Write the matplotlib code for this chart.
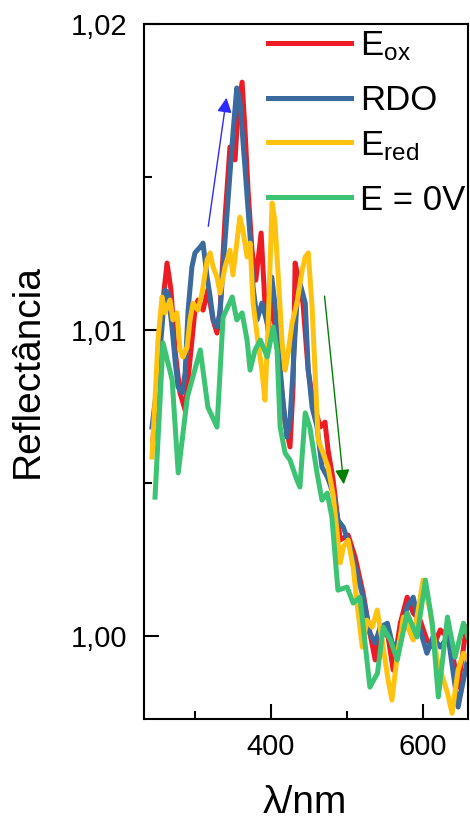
import matplotlib
matplotlib.use("Agg")
import matplotlib.pyplot as plt
from matplotlib.ticker import MultipleLocator, FuncFormatter

plt.rcParams['font.family'] = ['Liberation Sans', 'DejaVu Sans']
plt.rcParams['mathtext.fontset'] = 'custom'
plt.rcParams['mathtext.rm'] = 'Liberation Sans'
plt.rcParams['mathtext.it'] = 'Liberation Sans:italic'

# ---- data ----
ox_nm = [244.8, 251.4, 258.0, 263.3, 268.5, 273.8, 280.4, 287.0, 293.5, 300.0, 304.0, 310.6, 317.0,
         323.8, 329.0, 333.0, 339.6, 346.0, 352.7, 356.7, 362.0, 366.0, 369.8, 375.0, 380.0, 387.0,
         392.0, 396.0, 401.4, 409.0, 418.5, 425.0, 429.0, 431.7, 435.6, 442.0, 448.8, 455.0, 464.6,
         471.0, 475.0, 481.7, 491.0, 501.4, 510.6, 521.0, 530.0, 537.0, 543.5, 554.0, 560.6, 570.0,
         579.0, 587.0, 596.0, 605.0, 613.0, 622.5, 632.0, 639.6, 646.0, 655.0, 659.0]
ox_R = [1.00641, 1.00869, 1.01098, 1.01219, 1.01131, 1.00935, 1.00794, 1.00739, 1.00902, 1.01065,
        1.01098, 1.01065, 1.01131, 1.01033, 1.00990, 1.01065, 1.01369, 1.01598, 1.01556, 1.01719,
        1.01810, 1.01644, 1.01458, 1.01261, 1.01163, 1.01317, 1.01088, 1.01000, 1.01098, 1.00925,
        1.00696, 1.00618, 1.00814, 1.01219, 1.01173, 1.01088, 1.00869, 1.00771, 1.00683, 1.00699,
        1.00608, 1.00510, 1.00314, 1.00330, 1.00258, 1.00141, 1.00010, 0.99922, 1.00029, 0.99997,
        0.99889, 1.00042, 1.00127, 1.00075, 1.00052, 0.99987, 0.99964, 1.00020, 0.99997, 0.99931,
        0.99833, 0.99997, 1.00029]

rdo_nm = [243.5, 250.0, 256.7, 260.6, 264.6, 269.8, 273.8, 277.7, 283.0, 287.0, 291.0, 296.0, 300.0,
          306.7, 310.6, 316.0, 320.0, 324.0, 329.0, 333.0, 337.0, 343.5, 350.0, 355.0, 359.0, 363.0,
          366.0, 372.5, 376.4, 381.7, 388.0, 395.0, 401.0, 405.0, 409.0, 416.0, 421.0, 425.0, 429.0,
          434.0, 438.0, 445.0, 449.0, 454.0, 460.6, 467.0, 474.0, 481.7, 488.0, 495.0, 504.0, 513.0,
          521.0, 530.0, 537.0, 543.5, 553.0, 560.6, 569.8, 579.0, 587.0, 596.0, 605.0, 613.0, 622.5,
          633.0, 639.6, 646.0, 653.0, 659.0]
rdo_R = [1.00683, 1.00814, 1.01010, 1.01131, 1.01121, 1.01010, 1.00902, 1.00814, 1.00794, 1.00859,
         1.01065, 1.01206, 1.01252, 1.01271, 1.01284, 1.01173, 1.01108, 1.01033, 1.01010, 1.01056,
         1.01206, 1.01425, 1.01644, 1.01791, 1.01752, 1.01621, 1.01523, 1.01304, 1.01141, 1.01033,
         1.01088, 1.01023, 1.01173, 1.01088, 1.00958, 1.00761, 1.00650, 1.00706, 1.00869, 1.01088,
         1.01154, 1.01088, 1.00869, 1.00748, 1.00683, 1.00552, 1.00520, 1.00467, 1.00379, 1.00356,
         1.00291, 1.00206, 1.00127, 1.00010, 0.99977, 1.00029, 1.00042, 0.99964, 0.99987, 1.00095,
         1.00127, 1.00020, 0.99944, 0.99997, 0.99964, 0.99997, 0.99879, 0.99768, 0.99856, 0.99931]

red_nm = [243.5, 247.5, 251.4, 256.7, 260.6, 267.2, 271.0, 276.4, 280.4, 284.3, 289.6, 293.5, 297.5,
          304.0, 309.3, 316.0, 320.0, 323.8, 329.0, 333.0, 339.6, 346.0, 350.0, 355.0, 359.0, 363.0,
          368.5, 372.5, 376.4, 383.0, 388.0, 392.0, 396.0, 401.4, 405.0, 409.0, 414.6, 418.5, 422.5,
          427.7, 434.0, 441.0, 445.0, 449.0, 454.0, 458.0, 462.0, 468.5, 475.0, 481.7, 491.0, 495.0,
          501.4, 508.0, 514.6, 520.0, 526.0, 533.0, 539.6, 546.0, 554.0, 559.0, 566.0, 574.0, 587.0,
          600.0, 609.0, 618.5, 632.0, 638.0, 646.0, 653.0, 659.0]
red_R = [1.00585, 1.00771, 1.00967, 1.01108, 1.01056, 1.01098, 1.01033, 1.01056, 1.00935, 1.00912,
         1.00944, 1.01033, 1.01088, 1.01065, 1.01121, 1.01229, 1.01252, 1.01206, 1.01173, 1.01121,
         1.01206, 1.01261, 1.01180, 1.01284, 1.01369, 1.01327, 1.01239, 1.01284, 1.01088, 1.00958,
         1.00869, 1.00771, 1.01000, 1.01415, 1.01359, 1.01196, 1.00958, 1.00869, 1.00925, 1.01023,
         1.01088, 1.01196, 1.01239, 1.01252, 1.01075, 1.00859, 1.00641, 1.00598, 1.00552, 1.00461,
         1.00239, 1.00291, 1.00314, 1.00225, 1.00075, 0.99964, 1.00052, 1.00029, 1.00085, 0.99987,
         0.99856, 0.99791, 0.99938, 1.00062, 0.99987, 1.00183, 1.00085, 0.99922, 0.99814, 0.99748,
         0.99889, 0.99944, 0.99922]

zero_nm = [247.5, 258.0, 270.0, 278.0, 290.0, 307.0, 317.0, 329.0, 337.0, 349.0, 355.0, 362.0, 368.5,
           372.5, 379.0, 386.0, 395.0, 403.0, 408.0, 412.0, 418.5, 425.0, 434.0, 438.0, 445.0, 451.0,
           460.5, 467.0, 474.0, 480.0, 488.0, 500.0, 508.0, 517.0, 530.0, 540.0, 547.5, 557.0, 566.0,
           579.0, 592.0, 603.0, 612.0, 620.0, 632.0, 642.0, 653.0, 659.0]
zero_R = [1.00454, 1.00958, 1.00837, 1.00533, 1.00781, 1.00935, 1.00748, 1.00683, 1.01042, 1.01108,
          1.01033, 1.01056, 1.00967, 1.00869, 1.00935, 1.00967, 1.00912, 1.01010, 1.00935, 1.00683,
          1.00598, 1.00575, 1.00510, 1.00487, 1.00729, 1.00683, 1.00533, 1.00444, 1.00467, 1.00389,
          1.00150, 1.00160, 1.00108, 1.00127, 0.99833, 0.99879, 1.00029, 0.99987, 0.99922, 1.00075,
          0.99997, 1.00183, 1.00042, 0.99801, 1.00062, 0.99931, 1.00042, 0.99997]

labels = ["E$_{\\mathrm{ox}}$", "RDO", "E$_{\\mathrm{red}}$", "E = 0V"]
colors = ["#ED1C24", "#3B6A9E", "#FFC20E", "#3CC374"]
series = [(ox_nm, ox_R), (rdo_nm, rdo_R), (red_nm, red_R), (zero_nm, zero_R)]

# ---- figure ----
W, H = 470, 825
fig = plt.figure(figsize=(W / 100, H / 100), dpi=100)
ax = fig.add_axes([144 / W, 1 - 719 / H, (468 - 144) / W, (719 - 24) / H])

for (x, y), c in zip(series, colors):
    ax.plot(x, y, color=c, lw=3.6, solid_joinstyle='round')

ax.set_xlim(233, 659)
ax.set_ylim(0.99729, 1.02)

ax.xaxis.set_major_locator(MultipleLocator(200))
ax.xaxis.set_minor_locator(MultipleLocator(100))
ax.yaxis.set_major_locator(MultipleLocator(0.01))
ax.yaxis.set_minor_locator(MultipleLocator(0.005))
ax.yaxis.set_major_formatter(FuncFormatter(lambda v, p: f"{v:.2f}".replace('.', ',')))
ax.xaxis.set_major_formatter(FuncFormatter(lambda v, p: f"{v:.0f}"))

ax.tick_params(which='both', direction='in', width=1.5, labelsize=21, top=False, right=False)
ax.tick_params(which='major', length=11)
ax.tick_params(which='minor', length=5.5)
ax.tick_params(axis='y', which='major', pad=12)
ax.tick_params(axis='x', which='major', pad=10)
for s in ax.spines.values():
    s.set_linewidth(1.5)

# arrows
ax.annotate('', xy=(342, 1.01768), xytext=(317, 1.0133),
            arrowprops=dict(arrowstyle='-|>', color='#2B2BFF', lw=1.0, mutation_scale=22))
ax.annotate('', xy=(496, 1.00487), xytext=(470, 1.0112),
            arrowprops=dict(arrowstyle='-|>', color='#008000', lw=1.0, mutation_scale=22))

# legend (manual, frameless)
leg_line_y = [0.9727, 0.8935, 0.8302, 0.7511]
leg_text_y = [0.9554, 0.8763, 0.8115, 0.7324]
for lab, c, ly, ty in zip(labels, colors, leg_line_y, leg_text_y):
    ax.plot([0.383, 0.639], [ly, ly], transform=ax.transAxes, color=c, lw=3.6, clip_on=False)
    ax.text(0.667, ty, lab, transform=ax.transAxes, fontsize=25, va='baseline', ha='left',
            clip_on=False)

fig.text(28 / W, 1 - 371 / H, "Reflectância", rotation=90, fontsize=28, ha='center', va='center')
fig.text(305 / W, 12 / H, "λ/nm", fontsize=28, ha='center', va='baseline')

fig.savefig("out.png", dpi=100)
